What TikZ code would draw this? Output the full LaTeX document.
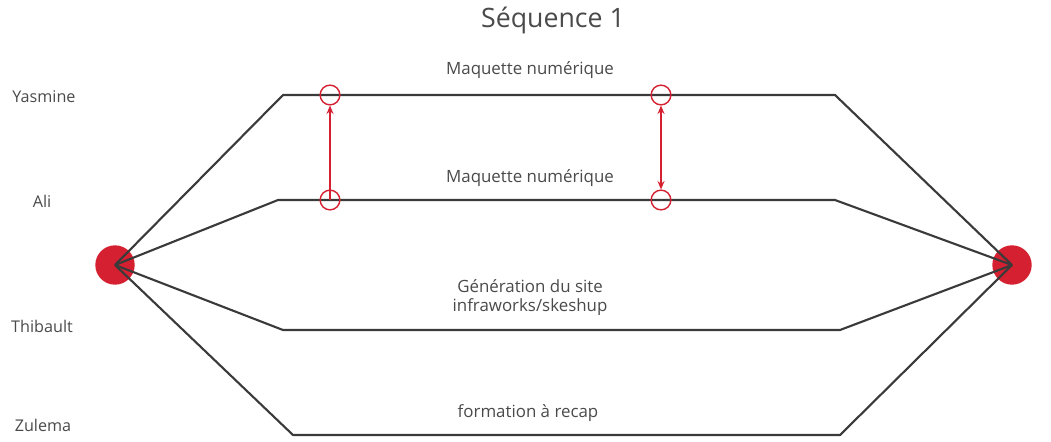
\documentclass[tikz,border=0pt]{standalone}
\usepackage{fontspec}
\setmainfont{Open Sans}
\usepackage{tikz}
\usetikzlibrary{arrows.meta, positioning, calc}
\definecolor{seqred}{HTML}{D42030}
\definecolor{seqgray}{HTML}{3A3A3A}
\definecolor{seqtext}{HTML}{4A4A4A}

\begin{document}
\begin{tikzpicture}[x=0.025cm, y=-0.025cm,
    track/.style={draw=seqgray, line width=1.5pt, line join=round},
    who/.style={text=seqtext, font=\fontsize{11.5}{12}\selectfont},
    task/.style={text=seqtext, font=\fontsize{12}{13.5}\selectfont, align=center},
    hub/.style={circle, fill=seqred, minimum size=28pt, inner sep=0pt},
    ring/.style={circle, draw=seqred, line width=1pt, minimum size=14pt, inner sep=0pt}]
  \useasboundingbox (0,0) rectangle (1051,441);
  % title
  \node[text=seqtext, font=\fontsize{19}{22}\selectfont] (title) at (553,20) {Séquence 1};
  % start and end
  \node[hub] (start) at (115,265) {};
  \node[hub] (stop) at (1012,265) {};
  % tracks
  \foreach \nm/\y/\xa/\xb in {ya/95/283/835, al/200/278/835, th/330/283/840, zu/435/293/840} {
    \coordinate (\nm-a) at (\xa,\y);
    \coordinate (\nm-b) at (\xb,\y);
    \draw[track] (start.center) -- (\nm-a) -- (\nm-b) -- (stop.center);
  }
  % people
  \node[who] (yasmine) at (44,97) {Yasmine};
  \node[who] (ali) at (42,201) {Ali};
  \node[who] (thibault) at (42,326) {Thibault};
  \node[who] (zulema) at (43,425) {Zulema};
  % tasks
  \node[task] (t-ya) at (530,70) {Maquette numérique};
  \node[task] (t-al) at (530,178) {Maquette numérique};
  \node[task] (t-th) at (530,298) {Génération du site\\infraworks/skeshup};
  \node[task] (t-zu) at (528,413) {formation à recap};
  % exchanges
  \foreach \nm/\x in {m1/330, m2/661} {
    \node[ring] (\nm-t) at (\x,95) {};
    \node[ring] (\nm-b) at (\x,200) {};
  }
  \draw[-{Stealth[length=6pt, width=5pt]}, seqred, line width=1pt] (m1-b.center) -- (m1-t.south);
  \draw[{Stealth[length=6pt, width=5pt]}-{Stealth[length=6pt, width=5pt]}, seqred, line width=1pt] (m2-b.north) -- (m2-t.south);
\end{tikzpicture}
\end{document}
